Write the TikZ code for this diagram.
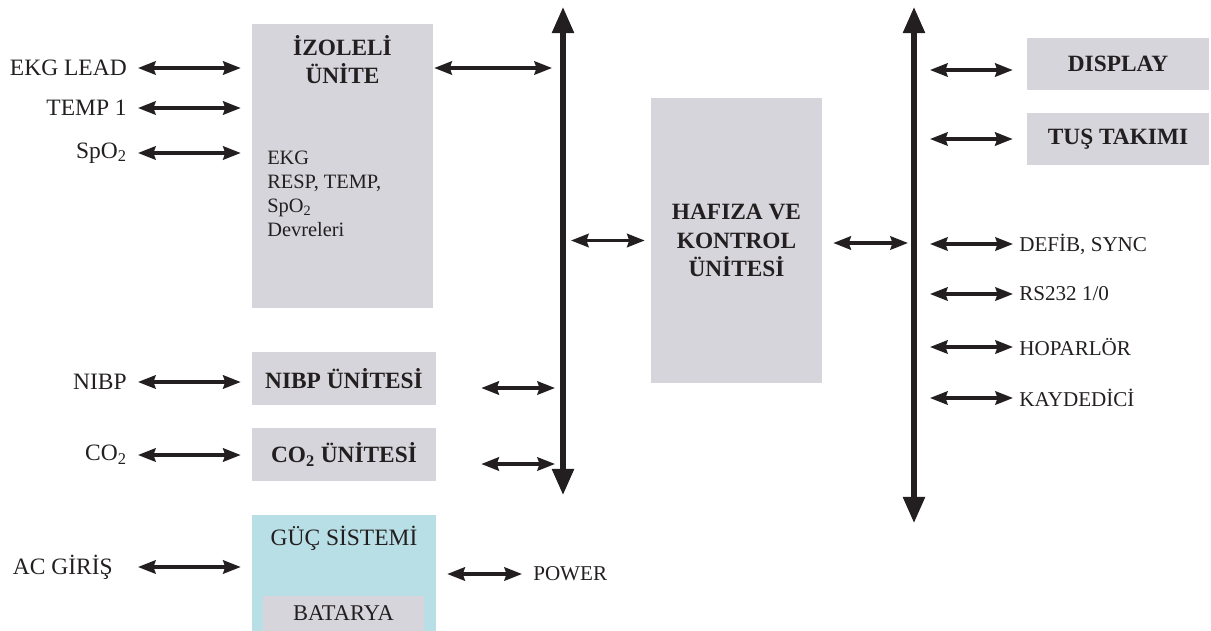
\documentclass[tikz,border=0pt]{standalone}
\usepackage{fontspec}
\setmainfont{Liberation Serif}
\usepackage{tikz}
\usetikzlibrary{arrows.meta, positioning, fit, calc}
\definecolor{inkdark}{HTML}{231F20}
\definecolor{unitgray}{HTML}{D6D5DC}
\definecolor{powerblue}{HTML}{B9DFE6}
\tikzset{
    unitbox/.style={
        rectangle, draw=none, fill=#1, inner sep=0pt,
        font=\fontsize{16.6}{20}\selectfont\bfseries, text=inkdark, align=center
    },
    unitbox/.default=unitgray,
    sidelab/.style={
        font=\fontsize{16.7}{20}\selectfont, text=inkdark, inner sep=0pt
    },
    portlab/.style={
        font=\fontsize{15}{18}\selectfont, text=inkdark, inner sep=0pt
    },
    bodytext/.style={
        font=\fontsize{14.5}{17}\selectfont, text=inkdark, inner sep=0pt, align=left
    },
    linkarrow/.style={
        {Stealth[length=12.5pt, width=9.5pt, inset=1.5pt]}-{Stealth[length=12.5pt, width=9.5pt, inset=1.5pt]},
        line width=2.4pt, draw=inkdark
    },
    busarrow/.style={
        {Triangle[length=18.5pt, width=15pt]}-{Triangle[length=18.5pt, width=15pt]},
        line width=3.6pt, draw=inkdark
    },
}

\begin{document}
\begin{tikzpicture}[x=0.025cm, y=-0.025cm]
    \useasboundingbox (0,0) rectangle (1211,631);

    % ── Buses ──
    \coordinate (busLtop) at (563,7);
    \coordinate (busLbot) at (563,495);
    \coordinate (busRtop) at (914,7);
    \coordinate (busRbot) at (914,523);
    \draw[busarrow] (busLbot) -- (busLtop);
    \draw[busarrow] (busRbot) -- (busRtop);

    % ── Patient side units ──
    \node[unitbox, fit={(252,24) (433,308)}] (iso) {};
    \node[unitbox, fill=none, anchor=north] (isotitle) at (342.5,35) {İZOLELİ\\ÜNİTE};
    \node[bodytext, anchor=north west] (isobody) at (267,151) {EKG\\RESP, TEMP,\\SpO\textsubscript{2}\\Devreleri};
    \node[unitbox, minimum width=4.6cm, minimum height=1.325cm] (nibp) at (344,378.5) {NIBP ÜNİTESİ};
    \node[unitbox, minimum width=4.6cm, minimum height=1.325cm] (co2u) at (344,454.5) {CO\textsubscript{2} ÜNİTESİ};
    \node[unitbox=powerblue, fit={(252,515) (436,631)}] (guc) {};
    \node[sidelab, anchor=base] (guctitle) at (344,545) {GÜÇ SİSTEMİ};
    \node[unitbox, font=\fontsize{16}{19}\selectfont, minimum width=4.025cm, minimum height=0.875cm] (bat) at (343.5,613.5) {BATARYA};

    % ── Control and user side ──
    \node[unitbox, minimum width=4.275cm, minimum height=7.125cm] (haf) at (736.5,240.5) {HAFIZA VE\\KONTROL\\ÜNİTESİ};
    \node[unitbox, minimum width=4.55cm, minimum height=1.3cm] (disp) at (1118,64) {DISPLAY};
    \node[unitbox, minimum width=4.55cm, minimum height=1.3cm] (tus) at (1118,139) {TUŞ TAKIMI};

    % ── Inputs ──
    \node[sidelab, anchor=east] (ekgin) at (127,68) {EKG LEAD};
    \node[sidelab, anchor=east] (tempin) at (127,108) {TEMP 1};
    \node[sidelab, anchor=east] (spoin) at (127,153) {SpO\textsubscript{2}};
    \node[sidelab, anchor=east] (nibpin) at (127,382) {NIBP};
    \node[sidelab, anchor=east] (co2in) at (127,455) {CO\textsubscript{2}};
    \node[sidelab, anchor=east] (acin) at (113,567) {AC GİRİŞ};

    % ── Ports ──
    \node[portlab, anchor=west] (defib) at (1019,244) {DEFİB, SYNC};
    \node[portlab, anchor=west] (rsport) at (1019,294) {RS232 1/0};
    \node[portlab, anchor=west] (spk) at (1019,347) {HOPARLÖR};
    \node[portlab, anchor=west] (rec) at (1019,398) {KAYDEDİCİ};
    \node[portlab, anchor=west] (powerlab) at (533,574) {POWER};

    % ── Arrows ──
    \foreach \src/\dst/\gap in {ekgin/iso/11, tempin/iso/11, spoin/iso/11, nibpin/nibp/11, co2in/co2u/11, acin/guc/25}
        \draw[linkarrow] ($(\src.east)+(\gap,0)$) -- ($(\src.east -| \dst.west)+(-11,0)$);
    \draw[linkarrow] ($(iso.east |- ekgin.east)+(1,0)$) -- ($(busLtop |- ekgin.east)+(-11,0)$);
    \draw[linkarrow] ($(busLtop |- haf.west)+(8,0)$) -- ($(haf.west)+(-6,0)$);
    \draw[linkarrow] ($(nibp.east)+(45,9.5)$) -- ($(busLtop |- nibp.east)+(-8,9.5)$);
    \draw[linkarrow] ($(co2u.east)+(45,9.5)$) -- ($(busLtop |- co2u.east)+(-8,9.5)$);
    \draw[linkarrow] ($(haf.east)+(11,2.5)$) -- ($(busRtop |- haf.east)+(-6,2.5)$);
    \foreach \dst/\gap/\dy in {disp/14/6, tus/14/0, defib/6/0, rsport/6/0, spk/6/0, rec/6/0}
        \draw[linkarrow] ($(busRtop |- \dst.west)+(16,\dy)$) -- ($(\dst.west)+(-\gap,\dy)$);
    \draw[linkarrow] ($(guc.east)+(11,1)$) -- ($(powerlab.west)+(-11,0)$);

\end{tikzpicture}
\end{document}
